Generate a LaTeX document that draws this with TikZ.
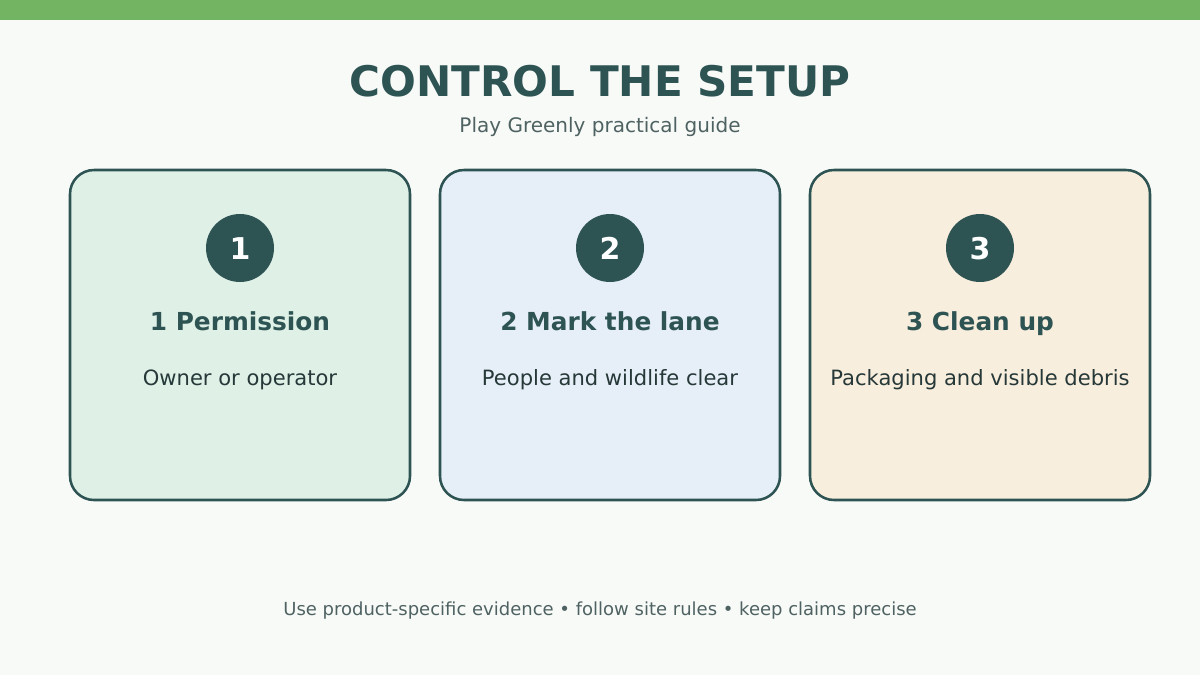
\documentclass[tikz,border=0pt]{standalone}
\usepackage{fontspec}
\setmainfont{DejaVu Sans}
\usepackage{xcolor}
\usetikzlibrary{positioning,calc}

\definecolor{pgback}{HTML}{F8FAF8}
\definecolor{pgbar}{HTML}{72B462}
\definecolor{pgdark}{HTML}{2D5353}
\definecolor{pgsub}{HTML}{4F6262}
\definecolor{pgtext}{HTML}{263838}
\definecolor{pggreen}{HTML}{DFF1E7}
\definecolor{pgblue}{HTML}{E6EFF7}
\definecolor{pgsand}{HTML}{F8EEDD}

\tikzset{
    card/.style={draw=pgdark, line width=1.9pt, rounded corners=18pt},
    badge/.style={circle, fill=pgdark, minimum size=51pt, inner sep=0pt},
    badgenum/.style={anchor=base, text=white, font=\bfseries\fontsize{22.5}{26}\selectfont},
    cardhead/.style={anchor=base, text=pgdark, font=\bfseries\fontsize{18.6}{22}\selectfont},
    cardbody/.style={anchor=base, text=pgtext, font=\fontsize{15.8}{19}\selectfont},
}

\begin{document}
\begin{tikzpicture}[x=0.75pt, y=-0.75pt]
    % Page
    \useasboundingbox (0,0) rectangle (1200,675);
    \fill[pgback] (0,0) rectangle (1200,675);
    \fill[pgbar] (0,0) rectangle (1200,20);

    % Heading
    \node[anchor=base, text=pgdark, font=\bfseries\fontsize{31.6}{38}\selectfont] (title) at (600,96) {CONTROL THE SETUP};
    \node[anchor=base, text=pgsub, font=\fontsize{15}{18}\selectfont] (subtitle) at (600,132) {Play Greenly practical guide};

    % Cards
    \draw[card, fill=pggreen] (70,170) rectangle (410,500);
    \node[badge] (b1) at (240,248) {};
    \node[badgenum] (n1) at (240,259) {1};
    \node[cardhead] (h1) at (240,330) {1 Permission};
    \node[cardbody] (t1) at (240,385) {Owner or operator};

    \draw[card, fill=pgblue] (440,170) rectangle (780,500);
    \node[badge] (b2) at (610,248) {};
    \node[badgenum] (n2) at (610,259) {2};
    \node[cardhead] (h2) at (610,330) {2 Mark the lane};
    \node[cardbody] (t2) at (610,385) {People and wildlife clear};

    \draw[card, fill=pgsand] (810,170) rectangle (1150,500);
    \node[badge] (b3) at (980,248) {};
    \node[badgenum] (n3) at (980,259) {3};
    \node[cardhead] (h3) at (980,330) {3 Clean up};
    \node[cardbody] (t3) at (980,385) {Packaging and visible debris};

    % Footer
    \node[anchor=base, text=pgsub, font=\fontsize{13.5}{16}\selectfont] (footer) at (600,615) {Use product-specific evidence • follow site rules • keep claims precise};
\end{tikzpicture}
\end{document}
